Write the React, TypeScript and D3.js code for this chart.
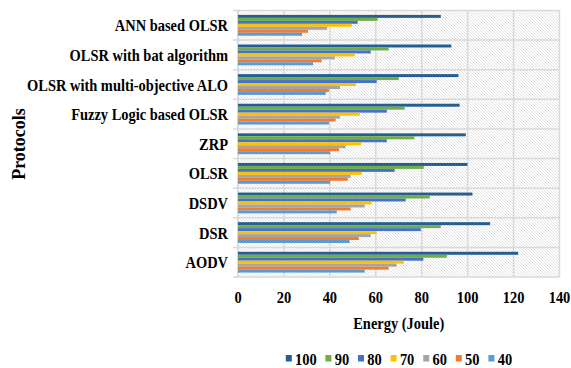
import React from "react";
import * as d3 from "d3";

const protocols = [
  "ANN based OLSR",
  "OLSR with bat algorithm",
  "OLSR with multi-objective ALO",
  "Fuzzy Logic based OLSR",
  "ZRP",
  "OLSR",
  "DSDV",
  "DSR",
  "AODV",
];
const seriesNames = ["100", "90", "80", "70", "60", "50", "40"];
const v100 = [88.3, 92.9, 96.0, 96.5, 99.2, 99.9, 102.1, 109.8, 122.0];
const v90 = [60.8, 65.6, 70.0, 72.6, 76.8, 80.9, 83.5, 88.3, 90.9];
const v80 = [52.1, 57.8, 60.4, 64.8, 64.8, 68.2, 73.0, 79.6, 80.7];
const v70 = [49.5, 50.8, 51.4, 53.0, 53.6, 53.9, 58.2, 60.4, 72.2];
const v60 = [38.8, 42.2, 44.4, 44.4, 46.9, 49.1, 55.2, 57.8, 69.1];
const v50 = [30.5, 36.4, 39.6, 42.5, 44.0, 47.8, 49.1, 52.6, 65.6];
const v40 = [27.9, 32.7, 38.2, 39.6, 40.1, 40.1, 43.0, 48.6, 55.2];
const seriesValues = [v100, v90, v80, v70, v60, v50, v40];
const colors = ["#255E91", "#70AD47", "#4472C4", "#FFC000", "#A5A5A5", "#ED7D31", "#5B9BD5"];
const xTicks = [0, 20, 40, 60, 80, 100, 120, 140];

const W = 571;
const H = 368;
const plot = { left: 238, right: 559.5, top: 10.5, bottom: 277 };
const font = "'Times New Roman', 'Liberation Serif', serif";
const FS = 17;
const SX = 0.85;

function T({ x, y, anchor, children, rotate = 0, sx = SX, fs = FS }: any) {
  const tf = rotate
    ? `translate(${x},${y}) rotate(${rotate}) scale(${sx},1)`
    : `translate(${x},${y}) scale(${sx},1)`;
  return (
    <text
      transform={tf}
      textAnchor={anchor}
      fontFamily={font}
      fontWeight="bold"
      fontSize={fs}
      fill="#000"
    >
      {children}
    </text>
  );
}

export default function App() {
  const x = d3.scaleLinear().domain([0, 140]).range([plot.left, plot.right]);
  const y = d3.scaleBand<string>().domain(protocols).range([plot.top, plot.bottom]).paddingInner(0).paddingOuter(0);
  const gap = 4.4;
  const inner = d3
    .scaleBand<string>()
    .domain(seriesNames)
    .range([gap, y.bandwidth() - gap])
    .padding(0);

  const boundaries = d3.range(protocols.length + 1).map((i) => plot.top + i * y.step());

  // legend layout
  const charW = 7;
  const sq = 6;
  const items = seriesNames.map((s) => sq + 3.3 + s.length * charW);
  const spacing = 9.3;
  const total = items.reduce((a, b) => a + b, 0) + spacing * (items.length - 1);
  const legStart = (plot.left + plot.right) / 2 - total / 2;
  const legX: number[] = [];
  let acc = legStart;
  items.forEach((w) => {
    legX.push(acc);
    acc += w + spacing;
  });

  return (
    <svg width={W} height={H} style={{ position: "absolute", left: 0, top: 0 }}>
      <defs>
        <pattern id="hatch" patternUnits="userSpaceOnUse" width={3} height={3}>
          <path d="M-1,-1 L4,4 M-1,2 L1,4 M2,-1 L4,1" stroke="#d4d4d4" strokeWidth={0.7} />
        </pattern>
      </defs>
      <rect x={0} y={0} width={W} height={H} fill="#fff" />
      <rect
        x={plot.left}
        y={plot.top}
        width={plot.right - plot.left}
        height={plot.bottom - plot.top}
        fill="url(#hatch)"
      />
      {xTicks.map((t) => (
        <line key={"g" + t} x1={x(t)} x2={x(t)} y1={plot.top} y2={plot.bottom} stroke="#d9d9d9" strokeWidth={1.5} />
      ))}
      {boundaries.map((b, i) => (
        <line key={"h" + i} x1={plot.left - 5} x2={plot.right} y1={b} y2={b} stroke="#d9d9d9" strokeWidth={1.5} />
      ))}
      <line x1={plot.left - 0.5} x2={plot.left - 0.5} y1={plot.top} y2={plot.bottom} stroke="#d9d9d9" strokeWidth={1} />
      {protocols.map((p, pi) => (
        <g key={p} transform={`translate(0,${y(p)})`}>
          {seriesNames.map((s, si) => (
            <rect
              key={s}
              x={x(0)}
              y={inner(s)}
              width={x(seriesValues[si][pi]) - x(0)}
              height={inner.bandwidth()}
              fill={colors[si]}
            />
          ))}
        </g>
      ))}
      {protocols.map((p) => (
        <T key={"l" + p} x={228} y={(y(p) as number) + y.bandwidth() / 2 + 6} anchor="end">
          {p}
        </T>
      ))}
      {xTicks.map((t) => (
        <T key={"t" + t} x={x(t)} y={303} anchor="middle">
          {t}
        </T>
      ))}
      <T x={(plot.left + plot.right) / 2} y={328.5} anchor="middle">
        Energy (Joule)
      </T>
      <T x={25} y={144} anchor="middle" rotate={-90} fs={18} sx={1}>
        Protocols
      </T>
      {seriesNames.map((s, i) => (
        <g key={"lg" + s} transform={`translate(${legX[i]},0)`}>
          <rect x={0} y={355} width={sq} height={6.5} fill={colors[i]} />
          <T x={sq + 3.3} y={364.5} anchor="start">
            {s}
          </T>
        </g>
      ))}
    </svg>
  );
}
